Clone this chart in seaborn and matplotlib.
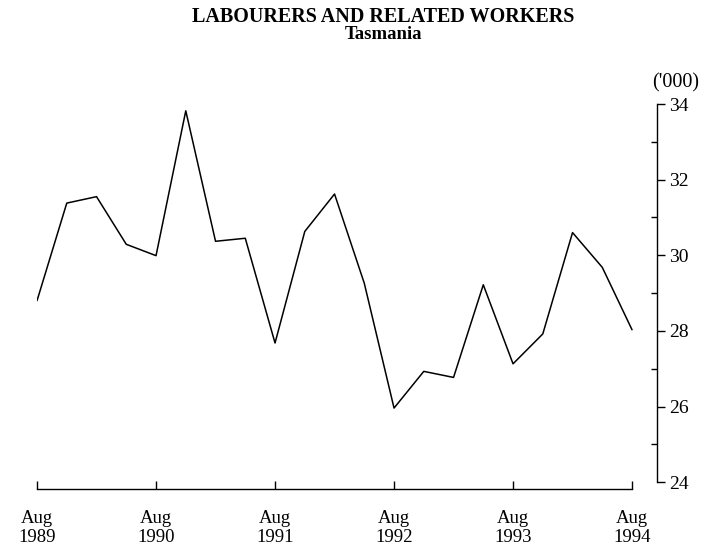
import matplotlib
matplotlib.use("Agg")
import matplotlib.pyplot as plt
import seaborn as sns
import pandas as pd
from matplotlib.ticker import MultipleLocator

# quarterly employment, Tasmania ('000), Aug 1989 .. Aug 1994
quarter = list(range(21))
employed = [28.8, 31.38, 31.55, 30.29, 29.99, 33.82, 30.37, 30.45, 27.68, 30.63,
            31.62, 29.26, 25.96, 26.93, 26.77, 29.22, 27.13, 27.92, 30.6, 29.68, 28.03]
tick_pos = [0, 4, 8, 12, 16, 20]
tick_labels = ["Aug\n1989", "Aug\n1990", "Aug\n1991", "Aug\n1992", "Aug\n1993", "Aug\n1994"]

df = pd.DataFrame({"quarter": quarter, "employed": employed})

sns.set_style("ticks")
plt.rcParams["font.family"] = ["Liberation Serif", "DejaVu Serif"]
plt.rcParams["text.color"] = "black"
plt.rcParams["xtick.color"] = "black"
plt.rcParams["ytick.color"] = "black"
plt.rcParams["xtick.labelcolor"] = "black"
plt.rcParams["ytick.labelcolor"] = "black"

fig = plt.figure(figsize=(7.12, 5.48), dpi=100)
ax = fig.add_axes([0.052, 0.1077, 0.8708, 0.7025])

sns.lineplot(data=df, x="quarter", y="employed", ax=ax, color="black", linewidth=1.1)

ax.set_xlim(0, 20.84)
ax.set_ylim(23.82, 34)

# y axis on the right
ax.yaxis.tick_right()
ax.spines["left"].set_visible(False)
ax.spines["top"].set_visible(False)
ax.spines["right"].set_bounds(24, 34)
ax.spines["bottom"].set_bounds(0, 20)
for s in ["right", "bottom"]:
    ax.spines[s].set_linewidth(1.0)
    ax.spines[s].set_color("black")

ax.set_yticks([24, 26, 28, 30, 32, 34])
ax.yaxis.set_minor_locator(MultipleLocator(1))
ax.tick_params(axis="y", which="major", direction="out", length=6, width=1, labelsize=14, pad=3)
ax.tick_params(axis="y", which="minor", direction="in", length=4, width=1)

ax.set_xticks(tick_pos)
ax.set_xticklabels(tick_labels, linespacing=1.15)
ax.tick_params(axis="x", which="major", direction="in", length=6, width=1, labelsize=13.5, pad=15)

ax.set_xlabel("")
ax.set_ylabel("")

fig.text(0.916, 0.848, "('000)", fontsize=14.5, ha="left", va="center")
fig.text(0.538, 0.960, "LABOURERS AND RELATED WORKERS", fontsize=14.5, fontweight="bold",
         ha="center", va="baseline")
fig.text(0.538, 0.929, "Tasmania", fontsize=13.5, fontweight="bold", ha="center", va="baseline")

fig.savefig("out.png", dpi=100)
